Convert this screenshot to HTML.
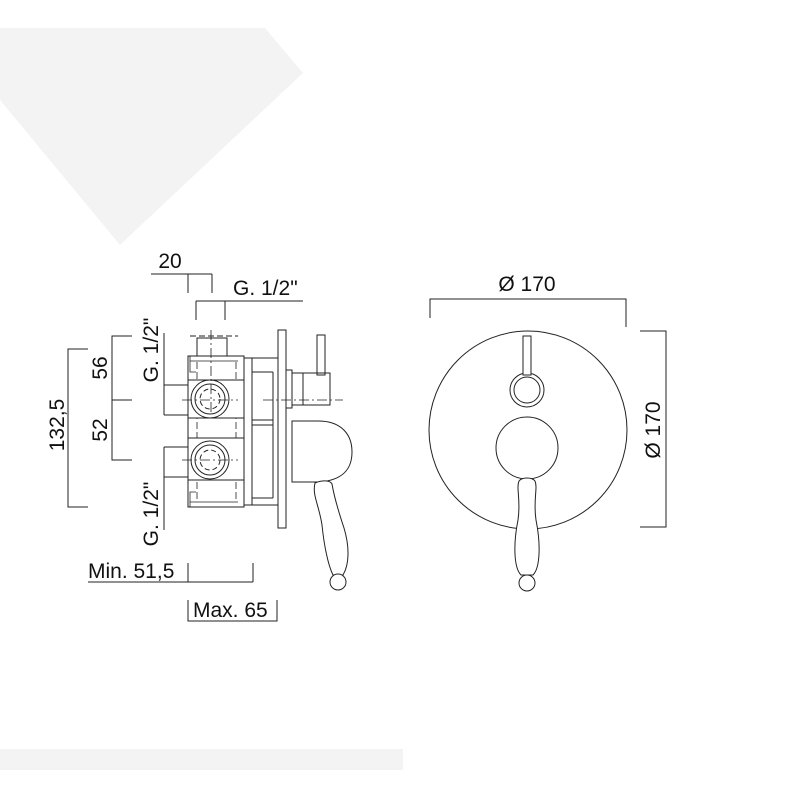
<!DOCTYPE html>
<html><head><meta charset="utf-8"><style>
html,body{margin:0;padding:0;background:#fff;}
svg{display:block}
text{font-family:"Liberation Sans",sans-serif;font-size:21px;fill:#111}
</style></head><body>
<svg width="800" height="800" viewBox="0 0 800 800">
<polygon points="0,28 265,28 303,73 120,245 0,100" fill="#f3f3f3"/>
<rect x="0" y="749" width="403" height="21" fill="#f3f3f3"/>
<g stroke="#222" stroke-width="1" fill="none">
<path d="M151,274 H212 M188,274 V293 M212,274 V293"/>
<path d="M196,301 H303 M196,301 V320 M225,301 V320"/>
<path d="M88,349 H68 V507 H88"/>
<path d="M132,336 H112 V460 H132 M112,400 H132"/>
<path d="M164,333 V415 M164,385 H188 M164,415 H188"/>
<path d="M164,447 V530 M164,447 H188 M164,477 H188"/>
<path d="M88,582 H253 M188,563 V582 M253,563 V582"/>
<path d="M188,600 V621 H277 V600"/>
<rect x="188" y="356" width="56" height="151"/>
<rect x="197" y="338" width="30" height="18"/>
<path d="M190,336 H238" stroke-dasharray="6,3"/>
<path d="M244,358 H278 M244,505 H278 M252,358 V505 M273,372 V498 M252,372 H273 M252,498 H273 M252,420 H273 M252,425 H273"/>
<path d="M190,361 H238 M190,502 H238 M190,356 V372 H196 M190,507 V492 H196" stroke-width="0.8"/>
<path d="M197,362 V500 M236,362 V500" stroke-dasharray="7,3" stroke-width="0.8"/>
<rect x="188" y="380" width="56" height="38" fill="#fff"/>
<rect x="188" y="438" width="56" height="42" fill="#fff"/>
<circle cx="210" cy="399" r="19"/><circle cx="210" cy="399" r="15"/><circle cx="210" cy="399" r="10" stroke-dasharray="5,3"/>
<circle cx="210" cy="460" r="19"/><circle cx="210" cy="460" r="15"/><circle cx="210" cy="460" r="10" stroke-dasharray="5,3"/>
<path d="M182,400 H238 M182,460 H238 M211,330 V415" stroke-dasharray="10,3,2,3" stroke-width="0.8"/>
<rect x="278" y="330" width="8" height="198"/>
<rect x="286" y="370" width="6" height="38"/>
<rect x="292" y="373" width="38" height="32"/>
<path d="M303,373 V405"/>
<rect x="317" y="335" width="8" height="40"/>
<path d="M263,400 H343" stroke-dasharray="10,3,2,3" stroke-width="0.8"/>
<path d="M292,421 H318 C342,421 352,435 352,452 C352,470 342,480 320,482 H292 Z"/>
<path d="M315,483 C322,480 330,480 332,484 C334,496 338,510 344,528 C350,548 349,565 343,575 H333 C328,565 324,545 322,525 C319,505 312,495 315,483 Z" fill="#fff"/>
<circle cx="338" cy="582" r="8" fill="#fff"/>
<path d="M430,318 V299 H626 V327"/>
<path d="M640,331 H666 V527 H640"/>
<circle cx="528" cy="430" r="99" fill="#fff"/>
<circle cx="527" cy="390" r="17"/><circle cx="527" cy="390" r="13"/>
<rect x="523" y="336" width="8" height="39" fill="#fff"/>
<circle cx="527" cy="448" r="31"/>
<path d="M519,481 C522,477 532,477 535,481 C538,488 533,500 536,520 C541,545 540,568 533,575 H521 C514,568 513,545 518,520 C521,500 516,488 519,481 Z" fill="#fff"/>
<circle cx="527" cy="583" r="8" fill="#fff"/>
</g>
<text x="170" y="268" text-anchor="middle">20</text>
<text x="233" y="295">G. 1/2"</text>
<text transform="translate(64,425) rotate(-90)" text-anchor="middle">132,5</text>
<text transform="translate(107,368) rotate(-90)" text-anchor="middle">56</text>
<text transform="translate(107,430) rotate(-90)" text-anchor="middle">52</text>
<text transform="translate(158,350) rotate(-90)" text-anchor="middle">G. 1/2"</text>
<text transform="translate(158,514) rotate(-90)" text-anchor="middle">G. 1/2"</text>
<text x="88" y="578">Min. 51,5</text>
<text x="193" y="617">Max. 65</text>
<text x="527" y="291" text-anchor="middle">Ø 170</text>
<text transform="translate(660,430) rotate(-90)" text-anchor="middle">Ø 170</text>
</svg>
</body></html>
